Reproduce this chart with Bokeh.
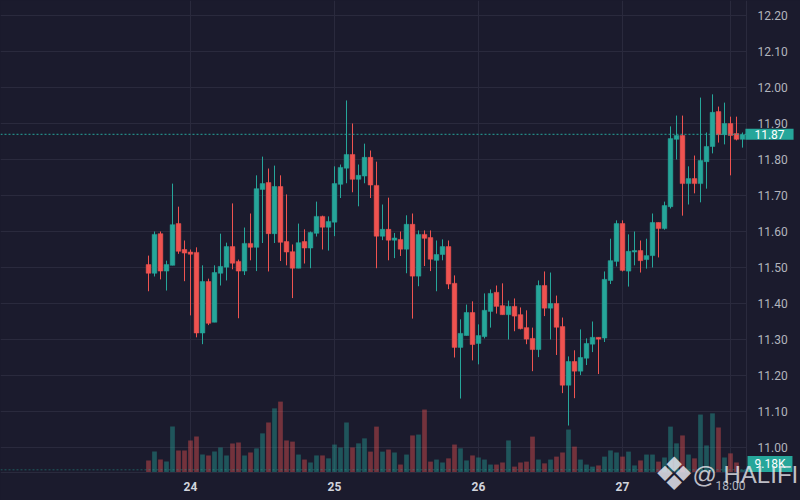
from bokeh.plotting import figure
from bokeh.models import Range1d, Label, ColumnDataSource
from bokeh.embed import file_html
from bokeh.resources import INLINE

# hourly candles: hour offset counted from day 23, 00:00 (23 17:00 ... 27 20:00)
hours = list(range(17, 117))

opens = [11.508, 11.484, 11.594, 11.490, 11.506, 11.622, 11.550, 11.543, 11.542, 11.318,
         11.461, 11.348, 11.484, 11.501, 11.558, 11.517, 11.490, 11.567, 11.556, 11.717,
         11.736, 11.594, 11.725, 11.572, 11.544, 11.498, 11.572, 11.554, 11.595, 11.642,
         11.612, 11.626, 11.731, 11.776, 11.814, 11.745, 11.754, 11.806, 11.728, 11.587,
         11.606, 11.576, 11.578, 11.551, 11.620, 11.476, 11.592, 11.583, 11.520, 11.536,
         11.558, 11.456, 11.278, 11.311, 11.375, 11.289, 11.308, 11.378, 11.431, 11.394,
         11.369, 11.392, 11.369, 11.333, 11.303, 11.272, 11.450, 11.387, 11.400, 11.336,
         11.173, 11.239, 11.212, 11.248, 11.287, 11.306, 11.304, 11.464, 11.517, 11.622,
         11.490, 11.543, 11.547, 11.522, 11.533, 11.625, 11.608, 11.669, 11.856, 11.867,
         11.733, 11.747, 11.733, 11.794, 11.836, 11.933, 11.869, 11.900, 11.872, 11.856]
highs = [11.533, 11.600, 11.600, 11.519, 11.733, 11.669, 11.575, 11.550, 11.556, 11.506,
         11.469, 11.506, 11.594, 11.569, 11.678, 11.522, 11.611, 11.650, 11.756, 11.808,
         11.775, 11.783, 11.756, 11.703, 11.564, 11.622, 11.606, 11.600, 11.683, 11.644,
         11.642, 11.781, 11.786, 11.964, 11.900, 11.786, 11.844, 11.825, 11.794, 11.675,
         11.694, 11.596, 11.600, 11.645, 11.650, 11.603, 11.603, 11.603, 11.575, 11.578,
         11.575, 11.478, 11.356, 11.397, 11.406, 11.342, 11.428, 11.439, 11.450, 11.456,
         11.408, 11.414, 11.389, 11.381, 11.333, 11.464, 11.489, 11.486, 11.422, 11.361,
         11.253, 11.270, 11.328, 11.303, 11.350, 11.306, 11.489, 11.580, 11.631, 11.631,
         11.592, 11.600, 11.575, 11.580, 11.650, 11.625, 11.683, 11.892, 11.922, 11.922,
         11.781, 11.811, 11.972, 11.875, 11.981, 11.947, 11.958, 11.919, 11.919, 11.875]
lows = [11.434, 11.475, 11.467, 11.436, 11.506, 11.538, 11.462, 11.367, 11.306, 11.287,
        11.340, 11.348, 11.450, 11.464, 11.495, 11.359, 11.479, 11.520, 11.490, 11.568,
        11.489, 11.568, 11.518, 11.506, 11.415, 11.498, 11.511, 11.498, 11.586, 11.550,
        11.547, 11.587, 11.693, 11.734, 11.709, 11.670, 11.734, 11.693, 11.498, 11.576,
        11.520, 11.526, 11.532, 11.484, 11.358, 11.448, 11.504, 11.490, 11.434, 11.520,
        11.440, 11.250, 11.136, 11.311, 11.242, 11.231, 11.303, 11.333, 11.372, 11.369,
        11.300, 11.323, 11.328, 11.287, 11.212, 11.251, 11.365, 11.300, 11.257, 11.151,
        11.061, 11.137, 11.201, 11.229, 11.265, 11.204, 11.293, 11.454, 11.503, 11.489,
        11.447, 11.506, 11.486, 11.497, 11.500, 11.528, 11.605, 11.664, 11.800, 11.644,
        11.675, 11.706, 11.681, 11.719, 11.817, 11.847, 11.842, 11.756, 11.853, 11.833]
closes = [11.484, 11.592, 11.490, 11.508, 11.619, 11.545, 11.540, 11.537, 11.318, 11.461,
          11.345, 11.486, 11.503, 11.558, 11.512, 11.490, 11.567, 11.556, 11.719, 11.733,
          11.594, 11.725, 11.570, 11.543, 11.498, 11.569, 11.554, 11.597, 11.642, 11.612,
          11.628, 11.733, 11.778, 11.814, 11.745, 11.756, 11.806, 11.729, 11.587, 11.606,
          11.576, 11.582, 11.551, 11.620, 11.476, 11.592, 11.581, 11.523, 11.536, 11.558,
          11.454, 11.278, 11.317, 11.375, 11.286, 11.311, 11.381, 11.428, 11.392, 11.369,
          11.392, 11.365, 11.330, 11.301, 11.272, 11.450, 11.387, 11.400, 11.334, 11.173,
          11.239, 11.212, 11.250, 11.289, 11.306, 11.301, 11.467, 11.519, 11.622, 11.492,
          11.545, 11.547, 11.519, 11.533, 11.625, 11.608, 11.672, 11.858, 11.867, 11.733,
          11.747, 11.733, 11.797, 11.836, 11.931, 11.869, 11.900, 11.867, 11.856, 11.869]
# volume in thousands
volumes = [41, 71, 44, 37, 156, 75, 75, 109, 122, 61,
           58, 71, 85, 58, 99, 102, 58, 68, 82, 133,
           170, 218, 241, 109, 105, 61, 44, 34, 58, 58,
           48, 95, 85, 170, 85, 99, 116, 71, 156, 71,
           78, 68, 27, 61, 126, 129, 214, 37, 44, 34,
           48, 95, 82, 41, 58, 51, 44, 27, 27, 34,
           109, 20, 34, 37, 122, 44, 31, 44, 54, 68,
           146, 88, 44, 27, 20, 24, 54, 75, 68, 54,
           71, 24, 41, 61, 61, 37, 51, 156, 99, 126,
           61, 48, 197, 92, 201, 153, 51, 65, 34, 9.18]

day_ticks = [24, 48, 72, 96]
day_labels = ["24", "25", "26", "27"]
hour_tick = 114
hour_label = "18:00"
price_ticks = [11.0, 11.1, 11.2, 11.3, 11.4, 11.5, 11.6, 11.7, 11.8, 11.9, 12.0, 12.1, 12.2]
price_labels = [f"{t:.2f}" for t in price_ticks]
last_price = 11.87
last_volume = 9.18
watermark = "@ HALIFI"

UP = "#26a69a"
DOWN = "#ef5350"
BG = "#1b1b2d"
GRID = "#2a2a3d"
TXT = "#b2b5be"

W, H = 800, 500
PANE_W, PANE_H = 746, 472          # chart pane; price scale to the right, time scale below
PX_PER_HOUR = 6.0
PX_PER_PRICE = 360.0
VOL_PER_PX = 3.4

X0 = 24 - 190 / PX_PER_HOUR        # hour at the left edge
Y1 = 12.0 + 87 / PX_PER_PRICE      # price at the top edge


def hx(px):
    return X0 + px / PX_PER_HOUR


def py(px_from_top):
    return Y1 - px_from_top / PX_PER_PRICE


PANE_R = hx(PANE_W)
PANE_B = py(PANE_H)

up = [c >= o for o, c in zip(opens, closes)]
src = ColumnDataSource(dict(
    x=hours,
    o=opens, h=highs, l=lows, c=closes,
    top=[max(o, c) for o, c in zip(opens, closes)],
    bot=[min(o, c) for o, c in zip(opens, closes)],
    vol=volumes,
    color=[UP if u else DOWN for u in up],
))

p = figure(width=W, height=H, output_backend="svg", toolbar_location=None,
           x_range=Range1d(X0, hx(W)), y_range=Range1d(py(H), Y1),
           x_axis_type=None, y_axis_type=None, min_border=0,
           background_fill_color=BG, border_fill_color=BG, outline_line_color=None)
p.extra_y_ranges = {"vol": Range1d(-(H - PANE_H) * VOL_PER_PX, PANE_H * VOL_PER_PX)}

# grid
p.segment(x0=X0, x1=PANE_R, y0=price_ticks, y1=price_ticks, line_color=GRID, line_width=1)
p.segment(x0=day_ticks + [hour_tick], x1=day_ticks + [hour_tick], y0=PANE_B, y1=Y1,
          line_color=GRID, line_width=1)

# volume
p.vbar(x="x", top="vol", bottom=0, width=0.78, source=src, y_range_name="vol",
       fill_color="color", fill_alpha=0.42, line_color=None)
p.segment(x0=X0, x1=PANE_R, y0=last_volume, y1=last_volume, y_range_name="vol",
          line_color=UP, line_alpha=0.45, line_width=1, line_dash="2 2")

# candles
p.segment(x0="x", y0="l", x1="x", y1="h", source=src, line_color="color", line_width=1)
p.vbar(x="x", top="top", bottom="bot", width=0.78, source=src,
       fill_color="color", line_color="color", line_width=0.5)

# last price line
p.segment(x0=X0, x1=PANE_R, y0=last_price, y1=last_price, line_color=UP,
          line_width=1, line_dash="2 2")

# pane borders
p.segment(x0=PANE_R, x1=PANE_R, y0=PANE_B, y1=Y1, line_color=GRID, line_width=1)
p.segment(x0=X0, x1=PANE_R, y0=PANE_B, y1=PANE_B, line_color=GRID, line_width=1)

# price scale labels
p.text(x=hx(757), y=price_ticks, text=price_labels, text_align="left", text_baseline="middle",
       text_font={"value": "Roboto"}, text_font_size="12px", text_color=TXT)

# time scale labels
p.text(x=day_ticks, y=py(486), text=day_labels, text_align="center", text_baseline="middle",
       text_font={"value": "Roboto"}, text_font_size="12px", text_font_style="bold",
       text_color="#d1d4dc")
p.add_layout(Label(x=hour_tick, y=py(485), text=hour_label,
                   text_align="center", text_baseline="middle",
                   text_font="Roboto", text_font_size="12px", text_color=TXT))

# last price / volume labels on the price scale
p.add_layout(Label(x=hx(769), y=last_price, text=f"{last_price:.2f}",
                   text_align="center", text_baseline="middle",
                   text_font="Roboto", text_font_size="12px", text_color="#ffffff",
                   background_fill_color=UP,
                   padding=dict(left=9, right=9, top=1, bottom=1)))
p.add_layout(Label(x=hx(769.5), y=py(463.4), text=f"{last_volume:.2f}K",
                   text_align="center", text_baseline="middle",
                   text_font="Roboto", text_font_size="12px", text_color="#ffffff",
                   background_fill_color=UP,
                   padding=dict(left=7, right=7, top=1, bottom=1)))

# watermark
p.add_layout(Label(x=hx(673.5), y=py(473), text="\u2756",
                   text_align="center", text_baseline="middle",
                   text_font="DejaVu Sans", text_font_size="46px",
                   text_color="#e6e6ee", text_alpha=0.85))
p.add_layout(Label(x=hx(692), y=py(474), text=watermark,
                   text_align="left", text_baseline="middle",
                   text_font="Liberation Sans", text_font_size="24px",
                   text_color="#ececf2", text_alpha=0.8))

html = file_html(p, INLINE)
html = html.replace("</head>", "<style>html,body{margin:0;padding:0;background:%s;overflow:hidden}</style></head>" % BG, 1)
open("out.html", "w").write(html)
